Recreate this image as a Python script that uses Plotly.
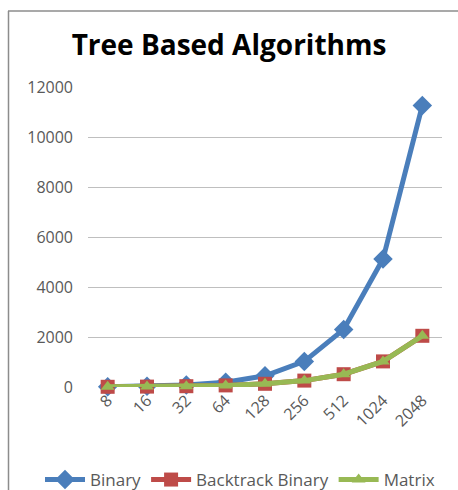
import plotly.graph_objects as go

categories = ["8", "16", "32", "64", "128", "256", "512", "1024", "2048"]
binary = [12, 32, 80, 192, 448, 1024, 2304, 5120, 11264]
backtrack_binary = [8, 16, 32, 64, 128, 256, 512, 1024, 2048]
matrix = [8, 16, 32, 64, 128, 256, 512, 1024, 2048]
y_ticks = [0, 2000, 4000, 6000, 8000, 10000, 12000]

W, H = 458, 490
L, R, T, B = 88, 16, 87, 103
pw = W - L - R
ph = H - T - B

def px(x):
    return (x - L) / pw

def py(y):
    return (H - B - y) / ph

FONT = "Open Sans"

fig = go.Figure()
fig.add_trace(go.Scatter(x=categories, y=binary, name="Binary", mode="lines+markers",
                         line=dict(color="#4A7EBB", width=5),
                         marker=dict(symbol="diamond", size=15, color="#4A7EBB"),
                         cliponaxis=False))
fig.add_trace(go.Scatter(x=categories, y=backtrack_binary, name="Backtrack Binary", mode="lines+markers",
                         line=dict(color="#BE4B48", width=5),
                         marker=dict(symbol="square", size=14, color="#BE4B48"),
                         cliponaxis=False))
fig.add_trace(go.Scatter(x=categories, y=matrix, name="Matrix", mode="lines+markers",
                         line=dict(color="#98B954", width=5),
                         marker=dict(symbol="triangle-up", size=12, color="#98B954"),
                         cliponaxis=False))

fig.update_layout(
    width=W, height=H,
    margin=dict(l=L, r=R, t=T, b=B, autoexpand=False),
    paper_bgcolor="white", plot_bgcolor="white",
    font=dict(family=FONT, color="#595959", size=16),
    title=dict(text="<b>Tree Based Algorithms</b>", x=0.5, xanchor="center",
               y=1 - 45 / H, yanchor="middle",
               font=dict(family=FONT, size=28, color="black")),
    showlegend=True,
    legend=dict(orientation="h", x=px(40), xanchor="left", y=py(480), yanchor="middle",
                font=dict(family=FONT, size=17, color="#595959"), itemwidth=40,
                tracegroupgap=0, bgcolor="rgba(0,0,0,0)"),
    xaxis=dict(type="category", range=[-0.5, 8.5], tickangle=-45, showgrid=False,
               showline=False, zeroline=False, ticks="", tickfont=dict(size=16),
               automargin=False),
    yaxis=dict(range=[0, 12000], tickvals=y_ticks, tickformat="d", showgrid=True,
               gridcolor="#BFBFBF", gridwidth=1, zeroline=False, showline=False, ticks="",
               tickfont=dict(size=16), ticklabelstandoff=14, automargin=False),
    shapes=[
        dict(type="line", xref="paper", yref="paper", x0=px(8), x1=px(458), y0=py(11), y1=py(11),
             line=dict(color="#8C8C8C", width=1.5)),
        dict(type="line", xref="paper", yref="paper", x0=px(8.5), x1=px(8.5), y0=py(11), y1=py(490),
             line=dict(color="#8C8C8C", width=1.5)),
    ],
)

fig.write_html("out.html")
